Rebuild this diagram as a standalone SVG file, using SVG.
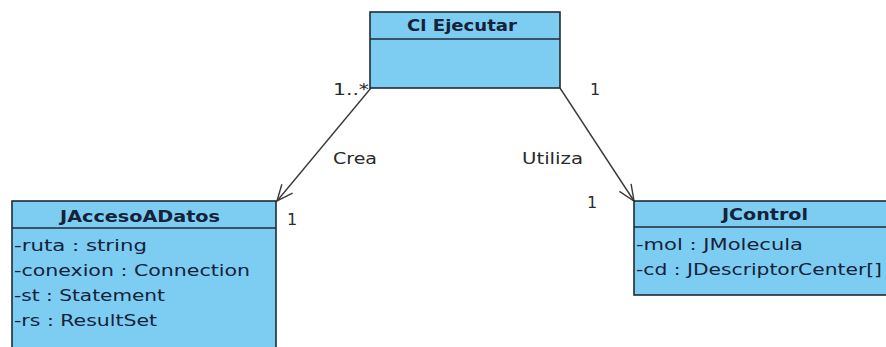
<svg xmlns="http://www.w3.org/2000/svg" width="886" height="347" viewBox="0 0 886 347">
  <style>
    .box { fill: #7dcdf2; stroke: #1f2b38; stroke-width: 1.6; }
    .sep { stroke: #1f2b38; stroke-width: 1.6; }
    .title { font-family: "DejaVu Sans", Verdana, sans-serif; font-weight: bold; font-size: 16px; fill: #14223a; text-anchor: middle; }
    .attr { font-family: "DejaVu Sans", Verdana, sans-serif; font-size: 16px; fill: #14223a; }
    .lbl { font-family: "DejaVu Sans", Verdana, sans-serif; font-size: 16px; fill: #2a2a2a; }
    .edge { stroke: #3a3a3a; stroke-width: 1.4; fill: none; }
  </style>
  <defs>
    <marker id="open" markerUnits="userSpaceOnUse" markerWidth="20" markerHeight="20" viewBox="-18 -9 20 18" refX="0" refY="0" orient="auto">
      <path d="M-16,-7 L0,0 L-16,7" fill="none" stroke="#3a3a3a" stroke-width="1.4"/>
    </marker>
  </defs>
  <rect width="886" height="347" fill="#ffffff"/>

  <!-- associations -->
  <g id="connectors">
    <line class="edge" x1="371" y1="88" x2="277" y2="201" marker-end="url(#open)"/>
    <line class="edge" x1="560" y1="88" x2="634" y2="201" marker-end="url(#open)"/>
    <text class="lbl" x="333" y="95" textLength="36" lengthAdjust="spacingAndGlyphs">1..*</text>
    <text class="lbl" x="590" y="95">1</text>
    <text class="lbl" x="333" y="164" textLength="44" lengthAdjust="spacingAndGlyphs">Crea</text>
    <text class="lbl" x="522" y="164" textLength="61" lengthAdjust="spacingAndGlyphs">Utiliza</text>
    <text class="lbl" x="287" y="225">1</text>
    <text class="lbl" x="587" y="208">1</text>
  </g>

  <!-- Cl Ejecutar -->
  <g id="cl-ejecutar">
    <rect class="box" x="370" y="12" width="190" height="76"/>
    <line class="sep" x1="370" y1="39" x2="560" y2="39"/>
    <text class="title" x="462" y="31" textLength="110" lengthAdjust="spacingAndGlyphs">Cl Ejecutar</text>
  </g>

  <!-- JAccesoADatos -->
  <g id="jaccesoadatos">
    <rect class="box" x="12" y="201" width="264" height="160"/>
    <line class="sep" x1="12" y1="228" x2="276" y2="228"/>
    <text class="title" x="140" y="222" textLength="160" lengthAdjust="spacingAndGlyphs">JAccesoADatos</text>
    <text class="attr" x="14" y="251" textLength="133" lengthAdjust="spacingAndGlyphs">-ruta : string</text>
    <text class="attr" x="14" y="276" textLength="236" lengthAdjust="spacingAndGlyphs">-conexion : Connection</text>
    <text class="attr" x="14" y="301" textLength="151" lengthAdjust="spacingAndGlyphs">-st : Statement</text>
    <text class="attr" x="14" y="326" textLength="143" lengthAdjust="spacingAndGlyphs">-rs : ResultSet</text>
  </g>

  <!-- JControl -->
  <g id="jcontrol">
    <rect class="box" x="634" y="201" width="262" height="94"/>
    <line class="sep" x1="634" y1="227" x2="896" y2="227"/>
    <text class="title" x="765" y="220" textLength="86" lengthAdjust="spacingAndGlyphs">JControl</text>
    <text class="attr" x="636" y="250" textLength="167" lengthAdjust="spacingAndGlyphs">-mol : JMolecula</text>
    <text class="attr" x="636" y="275" textLength="246" lengthAdjust="spacingAndGlyphs">-cd : JDescriptorCenter[]</text>
  </g>
</svg>
